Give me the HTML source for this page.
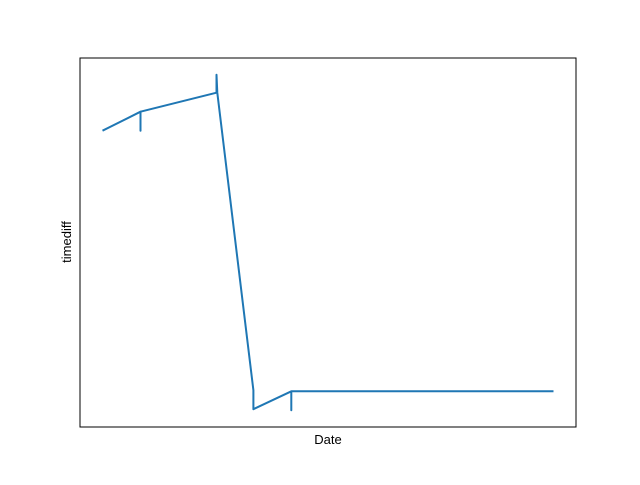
<!DOCTYPE html>
<html><head><meta charset="utf-8"><style>
body{margin:0;background:#fff;width:640px;height:480px;overflow:hidden}
svg{font-family:"Liberation Sans","DejaVu Sans",sans-serif}
</style></head><body>
<svg id="chart" width="640" height="480" xmlns="http://www.w3.org/2000/svg">
<rect x="80" y="58" width="496" height="369" fill="none" stroke="#000" stroke-width="1"/>
<text x="328" y="444" font-size="13" text-anchor="middle">Date</text>
<text x="0" y="0" font-size="13" text-anchor="middle" transform="translate(71,242) rotate(-90)">timediff</text>
</svg>
<script>
const xs = [0, 1, 1, 1, 3, 3, 3.02, 3.97, 3.97, 4.97, 4.97, 4.97, 11.87];
const ys = [280, 299, 280, 299, 318, 336, 318, 20, 1, 19, 0, 19, 19];
const x0 = 80, x1 = 576, y0 = 427, y1 = 58;
const xmin = Math.min(...xs), xmax = Math.max(...xs);
const ymin = Math.min(...ys), ymax = Math.max(...ys);
const xpad = (xmax - xmin) * 0.05, ypad = (ymax - ymin) * 0.05;
function sx(v){return x0 + (v - xmin + xpad) / (xmax - xmin + 2*xpad) * (x1 - x0);}
function sy(v){return y0 - (v - ymin + ypad) / (ymax - ymin + 2*ypad) * (y0 - y1);}
const svg = document.getElementById('chart');
const p = document.createElementNS('http://www.w3.org/2000/svg','path');
p.setAttribute('d', xs.map((x,i)=>(i?'L':'M')+sx(x).toFixed(1)+','+sy(ys[i]).toFixed(1)).join(''));
p.setAttribute('fill','none');
p.setAttribute('stroke','#1f77b4');
p.setAttribute('stroke-width','2');
p.setAttribute('stroke-linejoin','round');


svg.appendChild(p);
</script>
</body></html>
